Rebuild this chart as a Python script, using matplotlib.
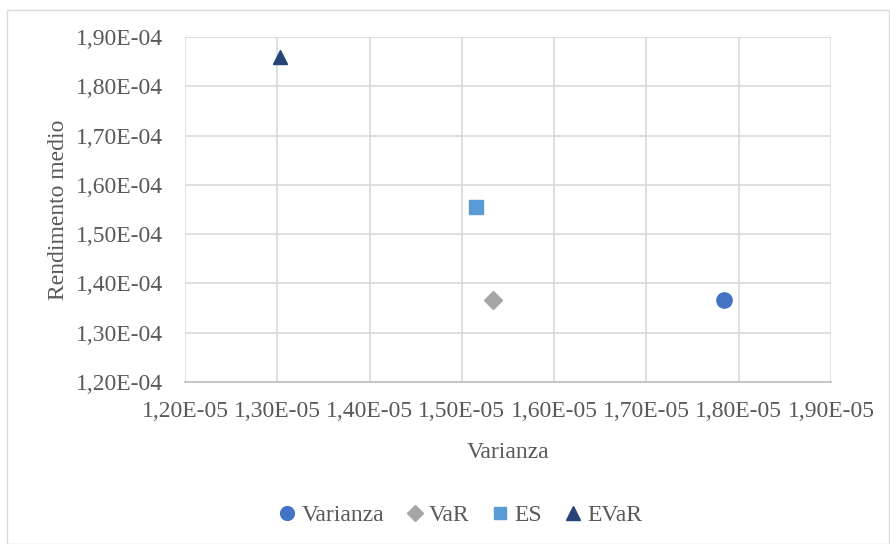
import matplotlib.pyplot as plt
from matplotlib.ticker import FuncFormatter
from matplotlib.patches import Rectangle

# Dati: varianza e rendimento medio per ciascuna misura di rischio
serie = ['Varianza', 'VaR', 'ES', 'EVaR']
varianza = [1.784e-05, 1.534e-05, 1.515e-05, 1.303e-05]
rendimento = [1.367e-04, 1.367e-04, 1.555e-04, 1.860e-04]

marcatori = ['o', 'D', 's', '^']
colori = ['#4472C4', '#A5A5A5', '#5B9BD5', '#264478']
dimensioni = [11, 9, 10, 10.5]

plt.rcParams['font.family'] = ['Liberation Serif', 'DejaVu Serif']
testo = '#595959'

fig = plt.figure(figsize=(8.9, 5.44), dpi=100)
fig.patches.append(Rectangle((7 / 890, 0), 882 / 890, 534 / 544, transform=fig.transFigure,
                             fill=False, edgecolor='#D9D9D9', linewidth=1))
ax = fig.add_axes([185 / 890, 162 / 544, 646 / 890, 345 / 544])

for nome, x, y, m, c, s in zip(serie, varianza, rendimento, marcatori, colori, dimensioni):
    ax.plot(x, y, linestyle='none', marker=m, color=c, markersize=s, label=nome)

ax.set_xlim(1.2e-05, 1.9e-05)
ax.set_ylim(1.2e-04, 1.9e-04)
ax.set_xticks([1.2e-05 + i * 1e-06 for i in range(8)])
ax.set_yticks([1.2e-04 + i * 1e-05 for i in range(8)])

fmt = FuncFormatter(lambda v, p: ('%.2E' % v).replace('.', ','))
ax.xaxis.set_major_formatter(fmt)
ax.yaxis.set_major_formatter(fmt)

ax.grid(True, color='#D9D9D9', linewidth=1.2)
ax.set_axisbelow(True)
for lato in ['top', 'right', 'left']:
    ax.spines[lato].set_visible(False)
ax.spines['bottom'].set_color('#BFBFBF')
ax.spines['bottom'].set_linewidth(1.2)
ax.tick_params(length=0, labelsize=17, colors=testo)
ax.tick_params(axis='y', pad=16)
ax.tick_params(axis='x', pad=14)

ax.set_xlabel('Varianza', fontsize=17, color=testo, labelpad=14)
ax.set_ylabel('Rendimento medio', fontsize=17, color=testo, labelpad=5)

fig.legend(loc='center', bbox_to_anchor=(460 / 890, 29 / 544), ncol=4, frameon=False,
           fontsize=17, labelcolor=testo, handlelength=0.8, handletextpad=0.2,
           columnspacing=0.9, markerscale=0.9)

fig.savefig('out.png', dpi=100)
